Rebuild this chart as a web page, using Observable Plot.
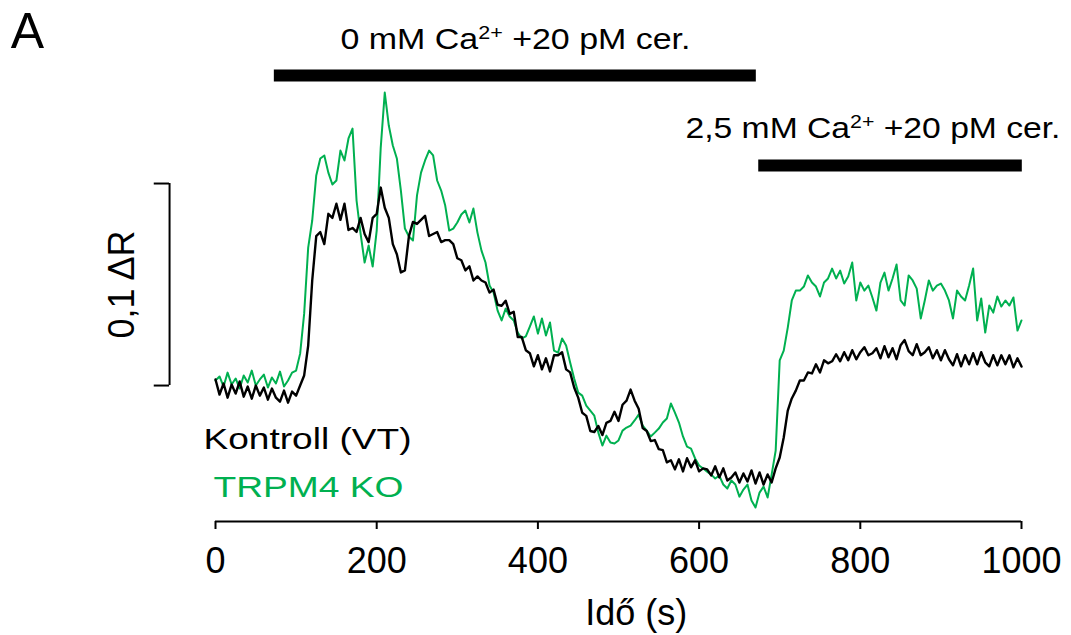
<!DOCTYPE html>
<html>
<head>
<meta charset="utf-8">
<script src="https://cdn.jsdelivr.net/npm/d3@7"></script>
<script src="https://cdn.jsdelivr.net/npm/@observablehq/plot@0.6"></script>
<style>
  html, body { margin: 0; padding: 0; background: #fff; }
  #chart svg { display: block; }
</style>
</head>
<body>
<div id="chart"></div>
<script>
// ---- Data (ΔR relative to baseline, sampled every 5 s from 0 to 1000 s) ----
const timeStep = 5;
const kontrollVT = [
  0.0030, -0.0045, 0.0010, -0.0060, 0.0005, -0.0040, 0.0020, -0.0055, -0.0005, -0.0065, 0.0000, -0.0050, -0.0010, -0.0070, -0.0015, -0.0060, -0.0080, -0.0025, -0.0085, -0.0030,
  -0.0050, 0.0000, 0.0050, 0.0198, 0.0520, 0.0740, 0.0760, 0.0700, 0.0850, 0.0830, 0.0900, 0.0820, 0.0900, 0.0770, 0.0780, 0.0760, 0.0830, 0.0750, 0.0710, 0.0830,
  0.0850, 0.0980, 0.0880, 0.0830, 0.0700, 0.0650, 0.0560, 0.0570, 0.0740, 0.0810, 0.0800, 0.0820, 0.0840, 0.0740, 0.0750, 0.0760, 0.0710, 0.0720, 0.0720, 0.0700,
  0.0630, 0.0620, 0.0570, 0.0590, 0.0520, 0.0540, 0.0520, 0.0510, 0.0460, 0.0475, 0.0400, 0.0395, 0.0420, 0.0355, 0.0365, 0.0240, 0.0240, 0.0175, 0.0160, 0.0095,
  0.0150, 0.0080, 0.0135, 0.0070, 0.0150, 0.0150, 0.0165, 0.0080, 0.0065, -0.0010, -0.0060, -0.0135, -0.0150, -0.0225, -0.0230, -0.0200, -0.0245, -0.0185, -0.0175, -0.0130,
  -0.0175, -0.0095, -0.0075, -0.0020, -0.0075, -0.0115, -0.0210, -0.0225, -0.0275, -0.0270, -0.0315, -0.0320, -0.0380, -0.0370, -0.0415, -0.0365, -0.0425, -0.0360, -0.0405, -0.0370,
  -0.0425, -0.0410, -0.0415, -0.0445, -0.0400, -0.0455, -0.0410, -0.0470, -0.0455, -0.0430, -0.0480, -0.0435, -0.0475, -0.0420, -0.0485, -0.0430, -0.0490, -0.0440, -0.0480, -0.0410,
  -0.0356, -0.0257, -0.0124, -0.0064, -0.0025, 0.0025, 0.0025, 0.0065, 0.0060, 0.0105, 0.0065, 0.0125, 0.0110, 0.0120, 0.0155, 0.0120, 0.0165, 0.0125, 0.0175, 0.0130,
  0.0165, 0.0190, 0.0150, 0.0160, 0.0185, 0.0135, 0.0195, 0.0140, 0.0185, 0.0130, 0.0200, 0.0225, 0.0170, 0.0150, 0.0205, 0.0150, 0.0165, 0.0190, 0.0135, 0.0175,
  0.0125, 0.0175, 0.0130, 0.0100, 0.0155, 0.0095, 0.0150, 0.0105, 0.0160, 0.0105, 0.0165, 0.0115, 0.0095, 0.0150, 0.0100, 0.0150, 0.0105, 0.0150, 0.0090, 0.0135,
  0.0094
];
const trpm4KO = [
  0.0025, 0.0045, -0.0005, 0.0064, 0.0005, 0.0035, -0.0015, 0.0050, 0.0015, 0.0074, 0.0000, 0.0030, 0.0054, -0.0010, 0.0040, 0.0010, 0.0069, -0.0005, 0.0025, 0.0064,
  0.0074, 0.0158, 0.0356, 0.0683, 0.0817, 0.1040, 0.1124, 0.1139, 0.1054, 0.0995, 0.1015, 0.1163, 0.1114, 0.1223, 0.1272, 0.0916, 0.0752, 0.0609, 0.0693, 0.0589,
  0.0767, 0.1178, 0.1450, 0.1287, 0.1188, 0.1124, 0.0965, 0.0777, 0.0738, 0.0718, 0.0941, 0.1054, 0.1114, 0.1163, 0.1139, 0.1015, 0.0965, 0.0891, 0.0767, 0.0777,
  0.0807, 0.0847, 0.0866, 0.0807, 0.0876, 0.0757, 0.0668, 0.0609, 0.0495, 0.0460, 0.0371, 0.0322, 0.0381, 0.0342, 0.0322, 0.0262, 0.0233, 0.0243, 0.0292, 0.0342,
  0.0257, 0.0332, 0.0248, 0.0312, 0.0173, 0.0163, 0.0233, 0.0198, 0.0114, 0.0035, -0.0035, -0.0050, -0.0099, -0.0124, -0.0149, -0.0233, -0.0297, -0.0248, -0.0282, -0.0287,
  -0.0272, -0.0223, -0.0208, -0.0198, -0.0173, -0.0144, -0.0198, -0.0223, -0.0252, -0.0233, -0.0213, -0.0183, -0.0163, -0.0089, -0.0134, -0.0183, -0.0252, -0.0302, -0.0312, -0.0361,
  -0.0396, -0.0411, -0.0426, -0.0441, -0.0460, -0.0446, -0.0490, -0.0510, -0.0470, -0.0490, -0.0550, -0.0515, -0.0490, -0.0569, -0.0604, -0.0530, -0.0500, -0.0554, -0.0441, -0.0322,
  0.0124, 0.0173, 0.0287, 0.0421, 0.0470, 0.0470, 0.0490, 0.0545, 0.0510, 0.0490, 0.0441, 0.0510, 0.0530, 0.0579, 0.0530, 0.0569, 0.0505, 0.0540, 0.0609, 0.0421,
  0.0510, 0.0470, 0.0495, 0.0436, 0.0371, 0.0510, 0.0559, 0.0470, 0.0530, 0.0599, 0.0421, 0.0396, 0.0545, 0.0520, 0.0480, 0.0332, 0.0421, 0.0520, 0.0470, 0.0495,
  0.0505, 0.0470, 0.0421, 0.0332, 0.0470, 0.0441, 0.0421, 0.0495, 0.0579, 0.0322, 0.0431, 0.0262, 0.0396, 0.0361, 0.0441, 0.0391, 0.0421, 0.0396, 0.0436, 0.0272,
  0.0322
];
const seriesNames = ["Kontroll (VT)", "TRPM4 KO"];
const seriesColors = ["#000000", "#00b050"];
const xTicks = [0, 200, 400, 600, 800, 1000];
const treatments = [
  {label: "0 mM Ca2+ +20 pM cer.", start: 73, end: 671},
  {label: "2,5 mM Ca2+ +20 pM cer.", start: 674, end: 1001}
];
const scaleBarValue = 0.1;
const scaleBarLabel = "0,1 ΔR";
const xLabel = "Idő (s)";
const panelLabel = "A";

// ---- Build tidy rows ----
const rowsK = kontrollVT.map((v, i) => ({t: i * timeStep, v}));
const rowsT = trpm4KO.map((v, i) => ({t: i * timeStep, v}));

const font = "'Liberation Sans', Arial, sans-serif";
const yDomain = [-0.0673, 0.1708];

const chart = Plot.plot({
  width: 1071,
  height: 635,
  marginLeft: 215,
  marginRight: 50,
  marginTop: 40,
  marginBottom: 114,
  style: {fontFamily: font, background: "#fff", overflow: "visible", color: "#000"},
  x: {domain: [0, 1000], axis: null},
  y: {domain: yDomain, axis: null},
  marks: [
    Plot.ruleY([yDomain[0]], {stroke: "#000", strokeWidth: 2}),
    Plot.axisX({ticks: xTicks, tickSize: 8, tickPadding: 18, fontSize: 36, label: null, stroke: "#000", strokeWidth: 2, tickFormat: d => String(d)}),
    Plot.text([xLabel], {x: 522, y: -0.1183, text: d => d, fontSize: 36, textAnchor: "middle", lineAnchor: "bottom", fill: "#000"}),
    // traces
    Plot.line(rowsT, {x: "t", y: "v", stroke: seriesColors[1], strokeWidth: 2}),
    Plot.line(rowsK, {x: "t", y: "v", stroke: seriesColors[0], strokeWidth: 2.4}),
    // scale bar
    Plot.ruleX([{x: -57, y1: 0, y2: scaleBarValue}], {x: "x", y1: "y1", y2: "y2", stroke: "#000", strokeWidth: 2}),
    Plot.ruleY([0, scaleBarValue], {x1: -76, x2: -57, stroke: "#000", strokeWidth: 2}),
    Plot.text([scaleBarLabel], {x: -116, y: scaleBarValue / 2, text: d => d, rotate: -90, fontSize: 36, textAnchor: "middle", lineAnchor: "middle", fill: "#000"}),
    // treatment bars
    Plot.ruleY(treatments, {x1: "start", x2: "end", y: (d, i) => [0.1535, 0.1089][i], stroke: "#000", strokeWidth: 12}),
    Plot.text(treatments, {x: (d, i) => [155.1, 583.1][i], y: (d, i) => [0.1668, 0.1223][i], text: "label", fontSize: 30, textAnchor: "start", lineAnchor: "bottom", fill: "#000"}),
    // legend
    Plot.text([seriesNames[0]], {x: -14.9, y: -0.0312, text: d => d, fontSize: 30, textAnchor: "start", lineAnchor: "bottom", fill: seriesColors[0]}),
    Plot.text([seriesNames[1]], {x: -2.5, y: -0.0554, text: d => d, fontSize: 30, textAnchor: "start", lineAnchor: "bottom", fill: seriesColors[1]}),
    // panel letter
    Plot.text([panelLabel], {x: -254, y: 0.1673, text: d => d, fontSize: 50, textAnchor: "start", lineAnchor: "bottom", fill: "#000"})
  ]
});

// superscripts and horizontal stretch of annotation text
const stretch = {
  "0 mM Ca2+ +20 pM cer.": 350,
  "2,5 mM Ca2+ +20 pM cer.": 375,
  "Kontroll (VT)": 208,
  "TRPM4 KO": 190
};
d3.select(chart).selectAll("text").each(function() {
  const s = this.textContent;
  if (!(s in stretch)) return;
  const el = d3.select(this);
  const m = s.match(/^(.*Ca)2\+(.*)$/);
  if (m) {
    el.text(null);
    el.append("tspan").text(m[1]);
    el.append("tspan").attr("dy", -10).attr("font-size", 19).text("2+");
    el.append("tspan").attr("dy", 10).text(m[2]);
  }
  el.attr("textLength", stretch[s]).attr("lengthAdjust", "spacingAndGlyphs");
});

document.getElementById("chart").appendChild(chart);
</script>
</body>
</html>
